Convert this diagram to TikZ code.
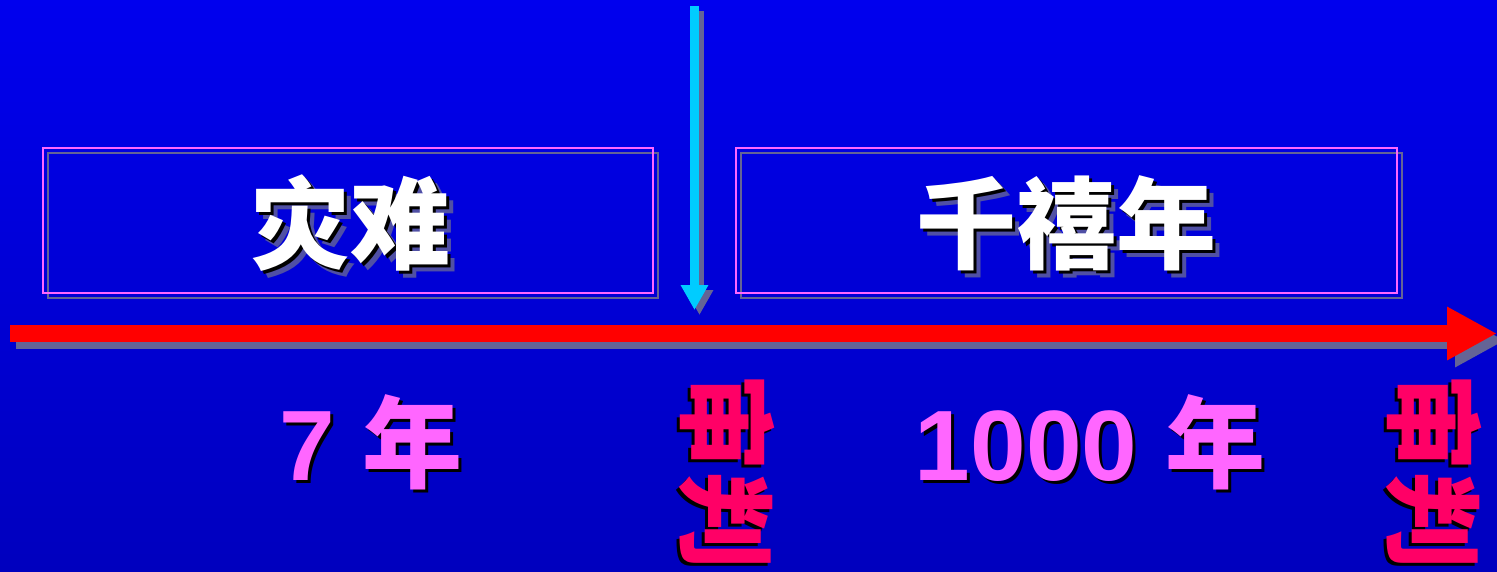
\documentclass[tikz,border=0pt]{standalone}
\usepackage{fontspec}
\setmainfont{Liberation Sans}
\newfontfamily\cjk{Noto Sans CJK SC}
\usetikzlibrary{arrows.meta}
\definecolor{bgtop}{RGB}{0,0,238}
\definecolor{bgbot}{RGB}{0,0,190}
\definecolor{boxpink}{RGB}{255,102,255}
\definecolor{shadowgray}{RGB}{100,100,150}
\definecolor{titlegray}{RGB}{80,80,165}
\definecolor{arrowcyan}{RGB}{0,204,255}
\definecolor{labelpink}{RGB}{255,102,255}
\definecolor{vpink}{RGB}{255,0,102}
\tikzset{
  framebox/.style={draw=boxpink, line width=2pt, minimum width=610pt, minimum height=145pt, inner sep=0pt},
  frameshadow/.style={draw=shadowgray, line width=2pt, minimum width=610pt, minimum height=145pt, inner sep=0pt},
  bigtitle/.style={text=white, font=\cjk\bfseries\fontsize{100}{100}\selectfont, inner sep=0pt},
  titleshadow/.style={text=titlegray, font=\cjk\bfseries\fontsize{100}{100}\selectfont, inner sep=0pt},
  titleblack/.style={text=black, font=\cjk\bfseries\fontsize{100}{100}\selectfont, inner sep=0pt},
  yearlabel/.style={font=\bfseries\fontsize{100}{100}\selectfont, inner sep=0pt},
  vlabel/.style={font=\cjk\bfseries\fontsize{98}{98}\selectfont, inner sep=0pt, rotate=-90},
}
\begin{document}
\begin{tikzpicture}[x=1pt,y=-1pt]
\fill[top color=bgtop,bottom color=bgbot] (0,0) rectangle (1497,571);
\useasboundingbox (0,0) rectangle (1497,571);
% boxes
\node[frameshadow] (tribs) at (353,225.5) {};
\node[framebox] (trib) at (348,220.5) {};
\node[frameshadow, minimum width=661pt] (mills) at (1071.5,225.5) {};
\node[framebox, minimum width=661pt] (mill) at (1066.5,220.5) {};
% titles
\node[titleshadow] at (357,230) {灾难};
\node[titleblack] at (353,226) {灾难};
\node[bigtitle] (tribt) at (350,223) {灾难};
\node[titleshadow] at (1073,230) {千禧年};
\node[titleblack] at (1069,226) {千禧年};
\node[bigtitle] (millt) at (1066,223) {千禧年};
% cyan arrow
\coordinate (cs) at (694.5,6);
\coordinate (ce) at (694.5,310);
\coordinate (css) at (699.5,11);
\coordinate (ces) at (699.5,315);
\draw[shadowgray, line width=9pt, -{Triangle[width=26pt,length=25pt]}] (css) -- (ces);
\draw[arrowcyan, line width=9pt, -{Triangle[width=26pt,length=25pt]}] (cs) -- (ce);
% red arrow
\coordinate (rs) at (10,333.5);
\coordinate (re) at (1497,333.5);
\coordinate (rss) at (16,340.5);
\coordinate (res) at (1505,340.5);
\draw[shadowgray, line width=17pt, -{Triangle[width=50pt,length=50pt]}] (rss) -- (res);
\draw[red, line width=17pt, -{Triangle[width=50pt,length=50pt]}] (rs) -- (re);
% year labels
\node[yearlabel, text=black] at (374,445) {7 {\cjk 年}};
\node[yearlabel, text=labelpink] (seven) at (371,442) {7 {\cjk 年}};
\node[yearlabel, text=black] at (1093,445) {1000 {\cjk 年}};
\node[yearlabel, text=labelpink] (thousand) at (1090,442) {1000 {\cjk 年}};
% vertical labels
\node[vlabel, text=black] at (724,474) {审判};
\node[vlabel, text=vpink] (judge1) at (727,471) {审判};
\node[vlabel, text=black] at (1431,474) {审判};
\node[vlabel, text=vpink] (judge2) at (1434,471) {审判};
\end{tikzpicture}
\end{document}
